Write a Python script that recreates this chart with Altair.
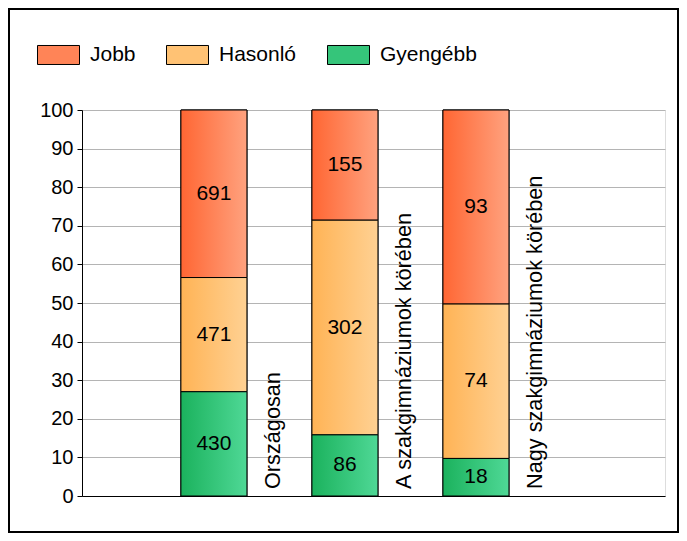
import altair as alt
import pandas as pd

categories = ["Országosan", "A szakgimnáziumok körében", "Nagy szakgimnáziumok körében"]
series = ["Jobb", "Hasonló", "Gyengébb"]
jobb = [691, 155, 93]
hasonlo = [471, 302, 74]
gyengebb = [430, 86, 18]

grad_left = ["#ff6633", "#ffb355", "#1bb25d"]
grad_right = ["#ffa27f", "#ffd193", "#4fd896"]
legend_colors = ["#ff8457", "#ffc274", "#35c57a"]
y_ticks = [0, 10, 20, 30, 40, 50, 60, 70, 80, 90, 100]

rows = []
for i, c in enumerate(categories):
    for k, (s, vals) in enumerate(zip(series, [jobb, hasonlo, gyengebb])):
        rows.append({"cat": c, "series": s, "count": vals[i], "order": k})
df = pd.DataFrame(rows)

FONT = "Liberation Sans"
W, H = 583, 386

xenc = alt.X(
    "cat:N",
    sort=categories,
    scale=alt.Scale(paddingInner=0.496, paddingOuter=0.973, align=0.388),
    axis=alt.Axis(title=None, labels=False, ticks=False, grid=False,
                  domainColor="black", domainWidth=1),
)
yscale = alt.Scale(domain=[0, 100], nice=False)
yaxis = alt.Axis(title=None, values=y_ticks, tickCount=11, tickColor="black",
                 tickSize=5, domainColor="black", labelFontSize=20,
                 labelColor="black", labelPadding=4, gridColor="#b4b4b4",
                 labelFont=FONT, labelOverlap=False)


def yenc(field):
    return alt.Y(field, scale=yscale, axis=yaxis)


base = (
    alt.Chart(df)
    .transform_joinaggregate(total="sum(count)", groupby=["cat"])
    .transform_calculate(pct="100*datum.count/datum.total")
    .transform_stack(stack="pct", groupby=["cat"],
                     sort=[alt.SortField("order", order="descending")],
                     as_=["y0", "y1"])
    .transform_calculate(mid="(datum.y0+datum.y1)/2")
)

legend_bars = base.mark_bar(stroke="black", strokeWidth=1).encode(
    x=xenc,
    y=yenc("y0:Q"),
    y2="y1:Q",
    color=alt.Color(
        "series:N",
        scale=alt.Scale(domain=series, range=legend_colors),
        sort=series,
        legend=alt.Legend(
            title=None, orient="none", direction="horizontal",
            legendX=-45, legendY=-77,
            symbolType="M-1,-0.4524L1,-0.4524L1,0.4524L-1,0.4524Z",
            symbolSize=1764, symbolStrokeColor="black", symbolStrokeWidth=1,
            symbolOpacity=1, labelFontSize=21, labelFont=FONT,
            labelColor="black", labelOffset=10, columnPadding=28, padding=0,
        ),
    ),
)

grad_layers = []
for s, l, r in zip(series, grad_left, grad_right):
    g = alt.Gradient(gradient="linear", x1=0, x2=1, y1=0, y2=0,
                     stops=[alt.GradientStop(color=l, offset=0),
                            alt.GradientStop(color=r, offset=1)])
    grad_layers.append(
        base.transform_filter(alt.datum.series == s)
        .mark_bar(fill=g, stroke="black", strokeWidth=1)
        .encode(x=xenc, y=yenc("y0:Q"), y2="y1:Q")
    )

values = base.mark_text(fontSize=21, font=FONT, color="black",
                        baseline="middle").encode(
    x=xenc, y=yenc("mid:Q"), text="count:Q"
)

cat_labels = (
    alt.Chart(df)
    .transform_filter(alt.datum.order == 0)
    .transform_calculate(zero="0")
    .mark_text(angle=270, align="left", baseline="middle", dx=7, dy=59,
               fontSize=21.7, font=FONT, color="black")
    .encode(x=xenc, y=yenc("zero:Q"), text="cat:N")
)

frame = alt.Chart(df).mark_rect(fillOpacity=0, stroke="black", strokeWidth=2).encode(
    x=alt.value(-73), x2=alt.value(W + 13), y=alt.value(-101), y2=alt.value(H + 36)
)

chart = (
    alt.layer(legend_bars, *grad_layers, values, cat_labels, frame)
    .properties(width=W, height=H,
                autosize=alt.AutoSizeParams(type="none"),
                padding={"left": 74, "top": 102, "right": 14, "bottom": 37})
    .configure_view(stroke=None)
    .configure(font=FONT)
)

chart.save("out.html", embed_options={"renderer": "svg", "actions": False})
